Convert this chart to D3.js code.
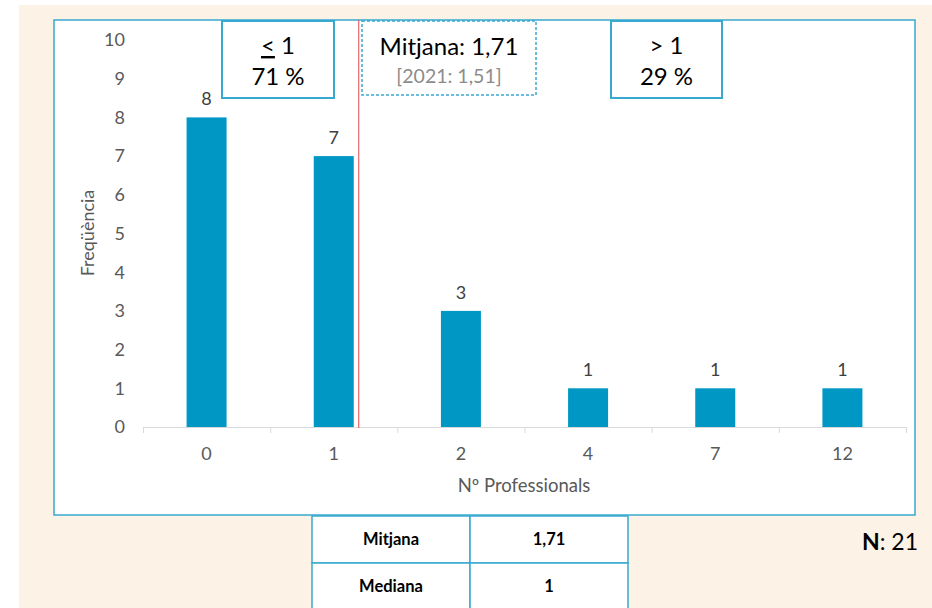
<!DOCTYPE html>
<html>
<head>
<meta charset="utf-8">
<script src="https://cdn.jsdelivr.net/npm/d3@7"></script>
<style>
  body { margin: 0; background: #fff; }
  text { font-family: Lato, "Open Sans", sans-serif; }
</style>
</head>
<body>
<div id="chart"></div>
<script>
// data
const categories = ["0", "1", "2", "4", "7", "12"];
const frequencies = [8, 7, 3, 1, 1, 1];
const yTicks = [0, 1, 2, 3, 4, 5, 6, 7, 8, 9, 10];
const tableRows = [["Mitjana", "1,71"], ["Mediana", "1"]];
const boxLow = ["< 1", "71 %"];
const boxMean = ["Mitjana: 1,71", "[2021: 1,51]"];
const boxHigh = ["> 1", "29 %"];
const nTotal = "21";

const W = 932, H = 608;
const blue = "#0097C5", frame = "#37A9D0";

const svg = d3.select("#chart").append("svg")
    .attr("width", W).attr("height", H);

// cream page
svg.append("rect").attr("x", 19).attr("y", 5).attr("width", W - 19).attr("height", H - 5)
    .attr("fill", "#FDF2E6");

// chart frame
svg.append("rect").attr("x", 54).attr("y", 20).attr("width", 861).attr("height", 495)
    .attr("fill", "#fff").attr("stroke", frame).attr("stroke-width", 1.5);

let x = d3.scaleBand().domain(categories).range([143, 906]).paddingInner(0).paddingOuter(0);
let y = d3.scaleLinear().domain([0, 10]).range([427, 40]);
let barW = 40;

// y tick labels
svg.selectAll(".ytick").data(yTicks).join("text")
    .attr("x", 125).attr("y", d => y(d)).attr("dy", "0.35em")
    .attr("text-anchor", "end").attr("font-size", 18).attr("fill", "#595959")
    .text(d => d);

// x axis line and ticks
svg.append("line").attr("x1", 143).attr("x2", 906).attr("y1", 427.5).attr("y2", 427.5)
    .attr("stroke", "#d9d9d9").attr("stroke-width", 1);
let bounds = categories.map(c => x(c)).concat([x.range()[1]]);
svg.selectAll(".xt").data(bounds).join("line")
    .attr("x1", d => d + 0.5).attr("x2", d => d + 0.5).attr("y1", 427).attr("y2", 433)
    .attr("stroke", "#d9d9d9");

// bars
svg.selectAll(".bar").data(frequencies).join("rect")
    .attr("x", (d, i) => x(categories[i]) + x.bandwidth() / 2 - barW / 2)
    .attr("y", d => y(d)).attr("width", barW).attr("height", d => y(0) - y(d))
    .attr("fill", blue);

// bar value labels
svg.selectAll(".lbl").data(frequencies).join("text")
    .attr("x", (d, i) => x(categories[i]) + x.bandwidth() / 2)
    .attr("y", d => y(d) - 12)
    .attr("text-anchor", "middle").attr("font-size", 18).attr("fill", "#404040")
    .text(d => d);

// x tick labels
svg.selectAll(".xl").data(categories).join("text")
    .attr("x", d => x(d) + x.bandwidth() / 2).attr("y", 460)
    .attr("text-anchor", "middle").attr("font-size", 18).attr("fill", "#595959")
    .text(d => d);

// axis titles
svg.append("text").attr("x", 524).attr("y", 492).attr("text-anchor", "middle")
    .attr("font-size", 18.5).attr("fill", "#595959").text("Nº Professionals");
svg.append("text").attr("transform", "translate(94,233) rotate(-90)")
    .attr("text-anchor", "middle").attr("font-size", 18).attr("fill", "#595959").text("Freqüència");

// red divider line (between <=1 and >1)
let divX = x("1") + x.bandwidth() / 2 + barW / 2 + 5;
svg.append("line").attr("x1", divX).attr("x2", divX).attr("y1", 20).attr("y2", 428)
    .attr("stroke", "#E0474C").attr("stroke-width", 1);

// annotation boxes
function annBox(x0, y0, w, h, dashed) {
    svg.append("rect").attr("x", x0).attr("y", y0).attr("width", w).attr("height", h)
        .attr("fill", "#fff").attr("stroke", frame).attr("stroke-width", dashed ? 1.5 : 2)
        .attr("stroke-dasharray", dashed ? "3,2" : null);
    return svg.append("g").attr("transform", `translate(${x0 + w / 2},${y0})`);
}

let g1 = annBox(222, 21, 112, 77, false);
let t1 = g1.append("text").attr("y", 33).attr("text-anchor", "middle").attr("font-size", 24).attr("fill", "#000");
t1.append("tspan").attr("text-decoration", "underline").text(boxLow[0].slice(0, 1));
t1.append("tspan").text(boxLow[0].slice(1));
g1.append("text").attr("y", 64).attr("text-anchor", "middle").attr("font-size", 24).attr("fill", "#000").text(boxLow[1]);

let g2 = annBox(362, 21, 174, 74, true);
g2.append("text").attr("y", 34).attr("text-anchor", "middle").attr("font-size", 24).attr("fill", "#000").text(boxMean[0]);
g2.append("text").attr("y", 62).attr("text-anchor", "middle").attr("font-size", 19.5).attr("fill", "#8C8C8C").text(boxMean[1]);

let g3 = annBox(611, 21, 111, 77, false);
g3.append("text").attr("y", 33).attr("text-anchor", "middle").attr("font-size", 24).attr("fill", "#000").text(boxHigh[0]);
g3.append("text").attr("y", 64).attr("text-anchor", "middle").attr("font-size", 24).attr("fill", "#000").text(boxHigh[1]);

// summary table
let tx = 312, tw = [158, 158], rh = 47, ty = 516;
tableRows.forEach((row, i) => {
    let cx = tx;
    row.forEach((cell, j) => {
        svg.append("rect").attr("x", cx).attr("y", ty + i * rh).attr("width", tw[j]).attr("height", rh)
            .attr("fill", "#fff").attr("stroke", frame).attr("stroke-width", 1.5);
        svg.append("text").attr("x", cx + tw[j] / 2).attr("y", ty + i * rh + rh / 2).attr("dy", "0.35em")
            .attr("text-anchor", "middle").attr("font-size", 16.5).attr("font-weight", "bold").attr("fill", "#000")
            .text(cell);
        cx += tw[j];
    });
});

// N label
let nt = svg.append("text").attr("x", 918).attr("y", 550).attr("text-anchor", "end")
    .attr("font-size", 23).attr("fill", "#000");
nt.append("tspan").attr("font-weight", "bold").text("N");
nt.append("tspan").text(": " + nTotal);
</script>
</body>
</html>
